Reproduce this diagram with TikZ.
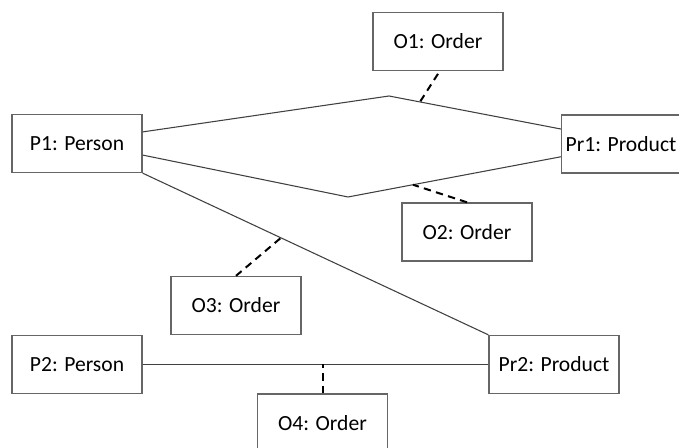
\documentclass[tikz,border=0pt]{standalone}
\usepackage{fontspec}
\setmainfont{Carlito}
\usepackage{tikz}
\usetikzlibrary{positioning}

\begin{document}
\begin{tikzpicture}[x=0.75pt, y=-0.75pt,
    obj/.style={draw=black!60, line width=1pt, fill=white, minimum width=97.5pt, minimum height=43.5pt, inner sep=0pt, font=\fontsize{16.2}{19}\selectfont},
    link/.style={draw=black!75, line width=0.8pt},
    dlink/.style={draw=black, line width=1.5pt, dash pattern=on 5.5pt off 4pt}]
    %
    \useasboundingbox (0,0) rectangle (679,448);
    %
    \node[obj] (P1) at (77,143.5) {P1: Person};
    \node[obj] (O1) at (438,41.5) {O1: Order};
    \node[obj, minimum width=0pt, inner xsep=3pt, anchor=west] (Pr1) at (561,144) {Pr1: Product};
    \node[obj] (O2) at (467,232) {O2: Order};
    \node[obj] (O3) at (236,305.5) {O3: Order};
    \node[obj] (P2) at (77,364.5) {P2: Person};
    \node[obj] (Pr2) at (554,364.5) {Pr2: Product};
    \node[obj] (O4) at (322.5,423) {O4: Order};
    %
    \coordinate (top) at (389,96);
    \coordinate (bot) at (348,197);
    %
    \draw[link] (P1.10) -- (top) -- (Pr1.166) coordinate[pos=0.18] (m1);
    \draw[link] (P1.-10) -- (bot) -- (Pr1.192) coordinate[pos=0.305] (m2);
    \draw[link] (P1.south east) -- (Pr2.north west) coordinate[pos=0.4] (m3);
    \draw[link] (P2.east) -- (Pr2.west);
    \coordinate (m4) at (O4.north |- P2.east);
    %
    \draw[dlink] ([yshift=-2pt]O1.south) -- (m1);
    \draw[dlink] (O2.north) -- (m2);
    \draw[dlink] (O3.north) -- (m3);
    \draw[dlink] (O4.north) -- (m4);
    %
\end{tikzpicture}
\end{document}
